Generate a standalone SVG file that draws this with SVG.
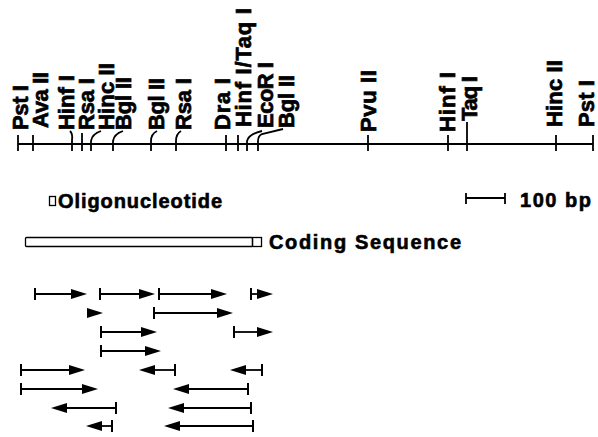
<svg xmlns="http://www.w3.org/2000/svg" width="598" height="437" viewBox="0 0 598 437">
<style>
.lbl{font-family:"Liberation Sans",Arial,Helvetica,sans-serif;font-weight:bold;font-size:22px;fill:#000;stroke:#000;stroke-width:0.7}
.txt{font-family:"Liberation Sans",Arial,Helvetica,sans-serif;font-weight:bold;font-size:20px;fill:#000;stroke:#000;stroke-width:0.6}
.tk{fill:none;stroke:#000;stroke-width:1.8}
.ar{fill:none;stroke:#000;stroke-width:1.8;marker-start:url(#tick);marker-end:url(#head)}
.hd{fill:none;stroke:#000;stroke-width:1.8;marker-end:url(#head)}
</style>
<defs>
<marker id="head" markerUnits="userSpaceOnUse" viewBox="0 0 16 10" markerWidth="16" markerHeight="10" refX="4" refY="5" orient="auto"><path d="M0,0 L16,5 L0,10 z" fill="#000"/></marker>
<marker id="tick" markerUnits="userSpaceOnUse" viewBox="0 0 2 12" markerWidth="2" markerHeight="12" refX="1" refY="6" orient="auto"><rect width="2" height="12" fill="#000"/></marker>
</defs>
<rect width="598" height="437" fill="#fff"/>
<g id="map">
<path class="tk" stroke-width="2" d="M18,144 H593"/>
</g>
<g id="site-pst1"><path class="tk" d="M18,135 V151"/><text class="lbl" transform="translate(28,130) rotate(-90)" textLength="45" lengthAdjust="spacing">Pst I</text></g>
<g id="site-ava2"><path class="tk" d="M33,135 V151"/><text class="lbl" transform="translate(48,128) rotate(-90)" textLength="56" lengthAdjust="spacing">Ava II</text></g>
<g id="site-hinf1"><path class="tk" d="M70,131 Q73,134 72,140 V151"/><text class="lbl" transform="translate(74,130) rotate(-90)" textLength="55" lengthAdjust="spacing">Hinf I</text></g>
<g id="site-rsa1"><path class="tk" d="M82,133 V151"/><text class="lbl" transform="translate(94,130) rotate(-90)" textLength="52" lengthAdjust="spacing">Rsa I</text></g>
<g id="site-hinc2"><path class="tk" d="M101,131 Q92,134 91,141 V151"/><text class="lbl" transform="translate(114,130) rotate(-90)" textLength="67" lengthAdjust="spacing">Hinc II</text></g>
<g id="site-bgl2a"><path class="tk" d="M123,131 Q114,134 113,141 V151"/><text class="lbl" transform="translate(131,130) rotate(-90)" textLength="53" lengthAdjust="spacing">Bgl II</text></g>
<g id="site-bgl2b"><path class="tk" d="M157,131 Q151,134 151,141 V151"/><text class="lbl" transform="translate(164,130) rotate(-90)" textLength="52" lengthAdjust="spacing">Bgl II</text></g>
<g id="site-rsa1b"><path class="tk" d="M181,131 Q176,134 176,141 V151"/><text class="lbl" transform="translate(191,130) rotate(-90)" textLength="52" lengthAdjust="spacing">Rsa I</text></g>
<g id="site-dra1"><path class="tk" d="M226,135 V151"/><text class="lbl" transform="translate(230,130) rotate(-90)" textLength="52" lengthAdjust="spacing">Dra I</text></g>
<g id="site-hinf1-taq1"><path class="tk" d="M238,135 V151"/><text class="lbl" transform="translate(251,127) rotate(-90)" textLength="119" lengthAdjust="spacing">Hinf I/Taq I</text></g>
<g id="site-ecor1"><path class="tk" d="M262,131 Q249,134 247,141 V151"/><text class="lbl" transform="translate(273,128) rotate(-90)" textLength="66" lengthAdjust="spacing">EcoR I</text></g>
<g id="site-bgl2c"><path class="tk" d="M283,129 L262,134 Q258,136 258,141 V151"/><text class="lbl" transform="translate(294,128) rotate(-90)" textLength="53" lengthAdjust="spacing">Bgl II</text></g>
<g id="site-pvu2"><path class="tk" d="M368,135 V151"/><text class="lbl" transform="translate(376,132) rotate(-90)" textLength="62" lengthAdjust="spacing">Pvu II</text></g>
<g id="site-hinf1b"><path class="tk" d="M448,135 V151"/><text class="lbl" transform="translate(455,132) rotate(-90)" textLength="60" lengthAdjust="spacing">Hinf I</text></g>
<g id="site-taq1"><path class="tk" d="M467,122 V151"/><text class="lbl" transform="translate(477,121) rotate(-90)" textLength="45" lengthAdjust="spacing">Taq I</text></g>
<g id="site-hinc2b"><path class="tk" d="M556,135 V151"/><text class="lbl" transform="translate(562,127) rotate(-90)" textLength="67" lengthAdjust="spacing">Hinc II</text></g>
<g id="site-pst1b"><path class="tk" d="M593,135 V151"/><text class="lbl" transform="translate(594,127) rotate(-90)" textLength="47" lengthAdjust="spacing">Pst I</text></g>
<g id="legend-oligo"><rect x="49.5" y="196.5" width="6" height="9" fill="none" stroke="#000" stroke-width="1.3"/><text class="txt" x="58" y="208" textLength="164" lengthAdjust="spacing">Oligonucleotide</text></g>
<g id="legend-scale"><path class="tk" d="M466,198 H505 M466,193 V204 M505,193 V204"/><text class="txt" x="520" y="207" textLength="71" lengthAdjust="spacing">100 bp</text></g>
<g id="legend-coding"><rect x="25.5" y="237.5" width="227" height="9" rx="1" fill="none" stroke="#000" stroke-width="1.3"/><rect x="252.5" y="237.5" width="9" height="9" fill="none" stroke="#000" stroke-width="1.3"/><text class="txt" x="269" y="249" textLength="192" lengthAdjust="spacing">Coding Sequence</text></g>
<g id="connectors">
<path class="ar" d="M35,294 H75"/>
<path class="ar" d="M100,294 H143"/>
<path class="ar" d="M159,294 H215"/>
<path class="ar" d="M251,294 H261"/>
<path class="hd" d="M87,313 H91"/>
<path class="ar" d="M154,313 H221"/>
<path class="ar" d="M101,332 H145"/>
<path class="ar" d="M234,332 H261"/>
<path class="ar" d="M101,351 H149"/>
<path class="ar" d="M21,370 H73"/>
<path class="ar" d="M175,370 H151"/>
<path class="ar" d="M262,370 H242"/>
<path class="ar" d="M21,389 H86"/>
<path class="ar" d="M248,389 H185"/>
<path class="ar" d="M116,408 H63"/>
<path class="ar" d="M251,408 H180"/>
<path class="ar" d="M112,426 H98"/>
<path class="ar" d="M253,426 H176"/>
</g>
</svg>
